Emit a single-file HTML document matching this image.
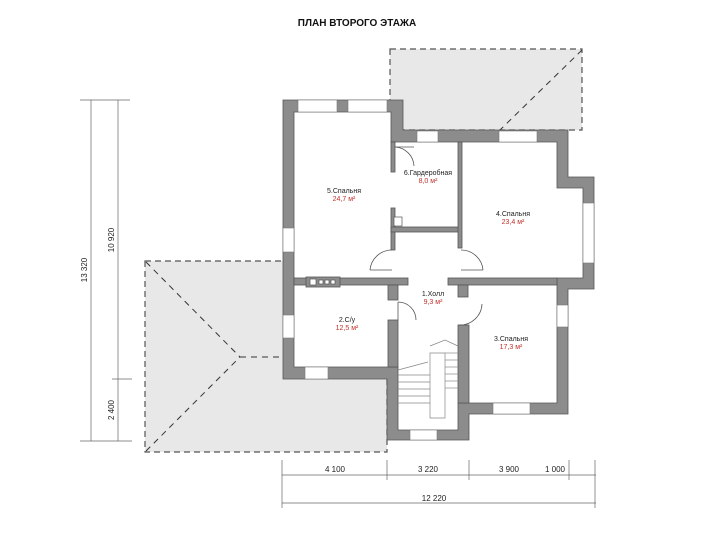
<!DOCTYPE html>
<html><head><meta charset="utf-8"><style>
html,body{margin:0;padding:0;background:#fff;}
svg{display:block;font-family:"Liberation Sans",sans-serif;}
</style></head><body>
<svg width="716" height="537" viewBox="0 0 716 537" xmlns="http://www.w3.org/2000/svg">
<text x="357" y="26" text-anchor="middle" font-size="10" font-weight="bold" fill="#111">ПЛАН ВТОРОГО ЭТАЖА</text>

<!-- roofs -->
<rect x="390" y="49" width="192" height="81" fill="#e8e8e8" stroke="#555" stroke-dasharray="6,4" stroke-width="1.2"/>
<line x1="582" y1="50" x2="500" y2="130" stroke="#333" stroke-dasharray="6,5"/>
<rect x="145" y="261" width="242" height="191" fill="#e8e8e8" stroke="#555" stroke-dasharray="6,4" stroke-width="1.2"/>
<line x1="146" y1="262" x2="240" y2="357" stroke="#333" stroke-dasharray="6,5"/>
<line x1="146" y1="451" x2="240" y2="357" stroke="#333" stroke-dasharray="6,5"/>
<line x1="240" y1="357" x2="283" y2="357" stroke="#333" stroke-dasharray="6,5"/>

<!-- house floor -->
<path d="M283 100 H403 V130 H568 V177 H594 V289 H568 V414 H469 V440 H387 V379 H283 Z" fill="#fff"/>

<g fill="#8c8c8c" stroke="#555" stroke-width="0.8">
<!-- outer walls -->
<path d="M283 100 H403 V130 H568 V177 H594 V289 H568 V414 H469 V440 H387 V379 H283 Z M294 112 V367 H398 V430 H458 V403 H557 V289 L557 278 H583 V188 H557 V142 H391 V112 Z" fill-rule="evenodd"/>
<!-- interior walls -->
<rect x="294" y="278" width="114" height="7"/>
<rect x="448" y="278" width="109" height="7"/>
<rect x="391" y="142" width="4" height="30"/>
<rect x="391" y="208" width="4" height="42"/>
<rect x="391" y="227" width="69" height="5"/>
<rect x="458" y="142" width="4" height="106"/>
<rect x="388" y="285" width="10" height="15"/>
<rect x="388" y="320" width="10" height="47"/>
<rect x="458" y="285" width="10" height="12"/>
<rect x="458" y="325" width="11" height="78"/>
<rect x="306" y="277" width="34" height="10"/>
</g>

<!-- windows -->
<g fill="#fff" stroke="#777" stroke-width="0.6">
<rect x="298" y="100" width="39" height="12"/>
<rect x="348" y="100" width="39" height="12"/>
<rect x="417" y="131" width="21" height="11"/>
<rect x="499" y="131" width="38" height="11"/>
<rect x="283" y="228" width="11" height="24"/>
<rect x="583" y="203" width="11" height="60"/>
<rect x="283" y="315" width="11" height="23"/>
<rect x="305" y="367" width="23" height="12"/>
<rect x="557" y="305" width="11" height="22"/>
<rect x="493" y="403" width="37" height="11"/>
<rect x="410" y="430" width="27" height="10"/>
</g>
<g fill="#fff" stroke="#555" stroke-width="0.7">
<rect x="310" y="279" width="6" height="6"/>
<rect x="319" y="280" width="4" height="4"/><rect x="325" y="280" width="4" height="4"/><rect x="331" y="280" width="4" height="4"/>
<rect x="394" y="217" width="8" height="9"/>
</g>

<!-- doors -->
<g fill="none" stroke="#555" stroke-width="0.8">
<path d="M395 147 A20 20 0 0 1 414 166"/><line x1="395" y1="147" x2="414" y2="147"/>
<path d="M370 270 A22 22 0 0 1 392 250"/><line x1="370" y1="270" x2="392" y2="270"/>
<path d="M483 270 A22 22 0 0 0 461 250"/><line x1="461" y1="270" x2="483" y2="270"/>
<path d="M398 302 A18 18 0 0 1 416 320"/><line x1="398" y1="302" x2="398" y2="320"/>
<path d="M482 304 A22 22 0 0 1 459 325"/>
</g>

<!-- stairs -->
<g fill="none" stroke="#888" stroke-width="0.7">
<path d="M430 418 V353 H445 V418 Z"/>
<path d="M430 346 L445 340 L458 346"/>
<line x1="398" y1="375" x2="430" y2="375"/>
<line x1="398" y1="382" x2="430" y2="382"/>
<line x1="398" y1="389" x2="430" y2="389"/>
<line x1="398" y1="396" x2="430" y2="396"/>
<line x1="398" y1="403" x2="430" y2="403"/>
<line x1="398" y1="370" x2="428" y2="362"/>
<line x1="445" y1="353" x2="458" y2="353"/><line x1="445" y1="360" x2="458" y2="360"/><line x1="445" y1="367" x2="458" y2="367"/><line x1="445" y1="374" x2="458" y2="374"/><line x1="445" y1="381" x2="458" y2="381"/><line x1="445" y1="388" x2="458" y2="388"/>
</g>

<!-- labels -->
<g font-size="7" text-anchor="middle" fill="#222">
<text x="344" y="193">5.Спальня</text>
<text x="428" y="175">6.Гардеробная</text>
<text x="513" y="216">4.Спальня</text>
<text x="433" y="296">1.Холл</text>
<text x="347" y="322">2.С/у</text>
<text x="511" y="341">3.Спальня</text>
</g>
<g font-size="7" text-anchor="middle" fill="#c0302a">
<text x="344" y="201">24,7 м²</text>
<text x="428" y="183">8,0 м²</text>
<text x="513" y="224">23,4 м²</text>
<text x="433" y="304">9,3 м²</text>
<text x="347" y="330">12,5 м²</text>
<text x="511" y="349">17,3 м²</text>
</g>

<!-- dimensions -->
<g stroke="#666" stroke-width="0.7" fill="none">
<line x1="91" y1="100" x2="91" y2="441"/>
<line x1="118" y1="100" x2="118" y2="441"/>
<line x1="80" y1="100" x2="130" y2="100"/>
<line x1="80" y1="441" x2="132" y2="441"/>
<line x1="112" y1="379" x2="132" y2="379"/>
<line x1="282" y1="475" x2="596" y2="475"/>
<line x1="282" y1="503" x2="596" y2="503"/>
<line x1="282" y1="460" x2="282" y2="508"/>
<line x1="387" y1="460" x2="387" y2="480"/>
<line x1="469" y1="460" x2="469" y2="480"/>
<line x1="569" y1="460" x2="569" y2="480"/>
<line x1="595" y1="460" x2="595" y2="508"/>
</g>
<g font-size="8" fill="#222" text-anchor="middle">
<text transform="translate(87,270) rotate(-90)">13 320</text>
<text transform="translate(114,240) rotate(-90)">10 920</text>
<text transform="translate(114,410) rotate(-90)">2 400</text>
<text x="335" y="472">4 100</text>
<text x="428" y="472">3 220</text>
<text x="509" y="472">3 900</text>
<text x="555" y="472">1 000</text>
<text x="434" y="501">12 220</text>
</g>
</svg>
</body></html>
